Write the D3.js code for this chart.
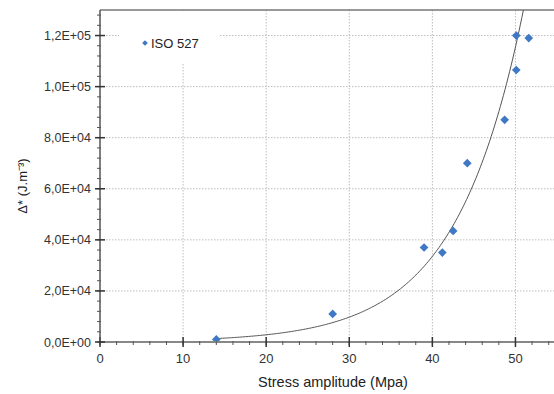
<!DOCTYPE html>
<html><head><meta charset="utf-8">
<script src="https://cdn.jsdelivr.net/npm/d3@7"></script>
<style>body{margin:0;background:#fff}svg{display:block}text{font-family:"Liberation Sans",Arial,sans-serif}</style>
</head><body><svg id="c" width="554" height="394"></svg>
<script>
const stress = [14, 28, 39, 41.2, 42.5, 44.2, 48.7, 50.1, 50.1, 51.6];
const energy = [1000, 11000, 37000, 35000, 43500, 70000, 87000, 106500, 120000, 119000];
const xTicks = [0, 10, 20, 30, 40, 50];
const yTicks = [0, 20000, 40000, 60000, 80000, 100000, 120000];
const yTickLabels = ["0,0E+00", "2,0E+04", "4,0E+04", "6,0E+04", "8,0E+04", "1,0E+05", "1,2E+05"];
const seriesName = "ISO 527";

const svg = d3.select("#c");
const L = 100, T = 10, R = 557, B = 342;
const x = d3.scaleLinear().domain([0, 55]).range([L, R]);
const y = d3.scaleLinear().domain([0, 130000]).range([B, T]);

// gridlines
const grid = svg.append("g").attr("stroke", "#bdbdbd").attr("stroke-width", 1).attr("stroke-dasharray", "1.5,1.5");
grid.selectAll(".gx").data(xTicks.filter(d => d > 0)).join("line")
  .attr("x1", d => x(d)).attr("x2", d => x(d)).attr("y1", T).attr("y2", B);
grid.selectAll(".gy").data(yTicks.filter(d => d > 0)).join("line")
  .attr("x1", L).attr("x2", R).attr("y1", d => y(d)).attr("y2", d => y(d));

// top border
svg.append("line").attr("x1", L).attr("x2", R).attr("y1", T).attr("y2", T).attr("stroke", "#777").attr("stroke-width", 1.5);

// exponential trendline (least squares on ln y)
const lx = stress, ly = energy.map(Math.log);
const mx = d3.mean(lx), my = d3.mean(ly);
const b = d3.sum(lx.map((v, i) => (v - mx) * (ly[i] - my))) / d3.sum(lx.map(v => (v - mx) ** 2));
const a = Math.exp(my - b * mx);
const xEnd = Math.min(55, Math.log(130000 / a) / b);
const curve = d3.range(0, 201).map(i => { const xv = d3.min(stress) + (xEnd - d3.min(stress)) * i / 200; return [xv, a * Math.exp(b * xv)]; });
svg.append("path").datum(curve).attr("fill", "none").attr("stroke", "#555").attr("stroke-width", 1)
  .attr("d", d3.line().x(d => x(d[0])).y(d => y(d[1])));

// legend box (white background interrupts grid)
svg.append("rect").attr("x", 119).attr("y", T + 1).attr("width", 101).attr("height", 52).attr("fill", "#fff");
svg.append("path").attr("d", d3.symbol(d3.symbolSquare, 16)()).attr("transform", `translate(145,43) rotate(45)`).attr("fill", "#3f78c4");
svg.append("text").attr("x", 151).attr("y", 47.5).attr("font-size", 13).attr("fill", "#222").text(seriesName);

// points
svg.selectAll(".pt").data(stress).join("path")
  .attr("d", d3.symbol(d3.symbolSquare, 38)())
  .attr("transform", (d, i) => `translate(${x(d)},${y(energy[i])}) rotate(45)`)
  .attr("fill", "#3f78c4");

// x axis
const xAxis = svg.append("g").attr("transform", `translate(0,${B})`);
xAxis.append("line").attr("x1", L).attr("x2", R).attr("stroke", "#888").attr("stroke-width", 2);
xAxis.selectAll(".mx").data(d3.range(0, 56, 2)).join("line")
  .attr("x1", d => x(d)).attr("x2", d => x(d)).attr("y1", -1).attr("y2", 3).attr("stroke", "#555");
xAxis.selectAll(".Mx").data(xTicks).join("line")
  .attr("x1", d => x(d)).attr("x2", d => x(d)).attr("y1", -5).attr("y2", 5).attr("stroke", "#333").attr("stroke-width", 1.5);
xAxis.selectAll("text").data(xTicks).join("text")
  .attr("x", d => x(d)).attr("y", 21).attr("text-anchor", "middle").attr("font-size", 13).attr("fill", "#333").text(d => d);

// y axis
const yAxis = svg.append("g").attr("transform", `translate(${L},0)`);
yAxis.append("line").attr("y1", T).attr("y2", B).attr("stroke", "#555").attr("stroke-width", 1.5);
yAxis.selectAll(".my").data(d3.range(0, 130001, 4000)).join("line")
  .attr("x1", -3).attr("x2", 1).attr("y1", d => y(d)).attr("y2", d => y(d)).attr("stroke", "#555");
yAxis.selectAll(".My").data(yTicks).join("line")
  .attr("x1", -5).attr("x2", 5).attr("y1", d => y(d)).attr("y2", d => y(d)).attr("stroke", "#333").attr("stroke-width", 1.5);
yAxis.selectAll("text").data(yTicks).join("text")
  .attr("x", -9).attr("y", d => y(d) + 4.5).attr("text-anchor", "end").attr("font-size", 12.5).attr("fill", "#333")
  .text((d, i) => yTickLabels[i]);

// axis titles
svg.append("text").attr("x", 333).attr("y", 387).attr("text-anchor", "middle").attr("font-size", 14.5).attr("fill", "#222")
  .text("Stress amplitude (Mpa)");
svg.append("text").attr("transform", "translate(27,186) rotate(-90)").attr("text-anchor", "middle").attr("font-size", 13).attr("fill", "#222")
  .text("Δ* (J.m⁻³)");
</script></body></html>
